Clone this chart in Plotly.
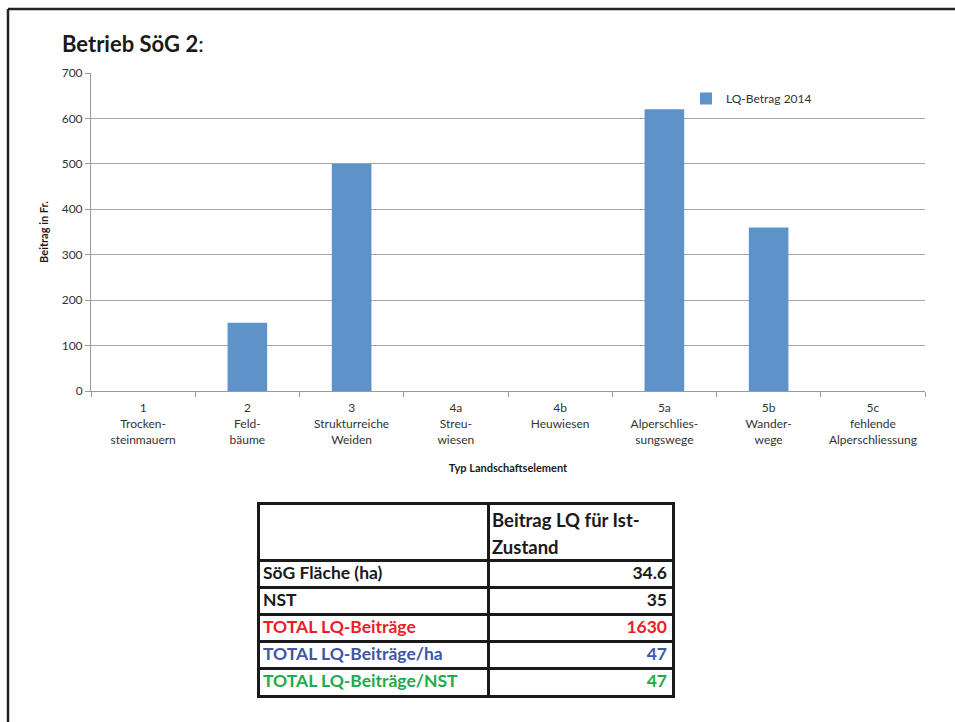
import plotly.graph_objects as go

W, H = 955, 722

categories = [
    "1<br>Trocken-<br>steinmauern",
    "2<br>Feld-<br>bäume",
    "3<br>Strukturreiche<br>Weiden",
    "4a<br>Streu-<br>wiesen",
    "4b<br>Heuwiesen",
    "5a<br>Alperschlies-<br>sungswege",
    "5b<br>Wander-<br>wege",
    "5c<br>fehlende<br>Alperschliessung",
]
values = [0, 150, 500, 0, 0, 620, 360, 0]
series_name = "LQ-Betrag 2014"
y_ticks = [0, 100, 200, 300, 400, 500, 600, 700]

table_labels = ["SöG Fläche (ha)", "NST", "TOTAL LQ-Beiträge", "TOTAL LQ-Beiträge/ha", "TOTAL LQ-Beiträge/NST"]
table_values = ["34.6", "35", "1630", "47", "47"]
table_colors = ["#1a1a1a", "#1a1a1a", "#ed1c24", "#3f55a5", "#22a94b"]
table_header_lines = ["Beitrag LQ für Ist-", "Zustand"]

FONT = "Lato"
bar_color = "#5d93c9"
border = "#1a1a1a"

# plot area in pixels
px_l, px_r, px_t, px_b = 91, 925, 73, 391

# table geometry (pixels)
tb_l, tb_r, tb_t = 260, 672, 505
col1_w = 228
header_h, row_h = 55, 27
tb_w = tb_r - tb_l
tb_h = header_h + row_h * len(table_labels)
row_bounds = [header_h + row_h * i for i in range(len(table_labels))]
row_centers = [header_h + row_h * i + row_h / 2 + 1 for i in range(len(table_labels))]

fig = go.Figure()
fig.add_trace(go.Bar(
    x=categories, y=values, name=series_name,
    marker=dict(color=bar_color, line=dict(width=0)),
    width=0.38, showlegend=True,
))

# table body: labels (left column) and values (right column)
fig.add_trace(go.Scatter(
    x=[3] * len(table_labels), y=row_centers,
    text=[f"<b>{t}</b>" for t in table_labels],
    mode="text", textposition="middle right",
    textfont=dict(family=FONT, size=17.5, color=table_colors),
    xaxis="x2", yaxis="y2", showlegend=False, hoverinfo="skip",
))
fig.add_trace(go.Scatter(
    x=[tb_w - 5] * len(table_values), y=row_centers,
    text=[f"<b>{v}</b>" for v in table_values],
    mode="text", textposition="middle left",
    textfont=dict(family=FONT, size=17.5, color=table_colors),
    xaxis="x2", yaxis="y2", showlegend=False, hoverinfo="skip",
))
fig.add_trace(go.Scatter(
    x=[col1_w + 4] * len(table_header_lines), y=[17, 44],
    text=[f"<b>{t}</b>" for t in table_header_lines],
    mode="text", textposition="middle right",
    textfont=dict(family=FONT, size=18.5, color=border),
    xaxis="x2", yaxis="y2", showlegend=False, hoverinfo="skip",
))

fig.update_layout(
    width=W, height=H,
    margin=dict(l=0, r=0, t=0, b=0, autoexpand=False),
    paper_bgcolor="white", plot_bgcolor="white",
    font=dict(family=FONT, size=12, color="#333333"),
    title=dict(
        text="<b>Betrieb SöG 2</b>:",
        x=62 / W, xanchor="left", xref="paper",
        y=1 - 44 / H, yanchor="middle", yref="paper",
        font=dict(family=FONT, size=22, color="#1a1a1a"),
    ),
    xaxis=dict(
        domain=[px_l / W, px_r / W],
        type="category",
        showgrid=False,
        showline=True, linecolor="#9a9a9a", linewidth=1,
        ticks="outside", tickson="boundaries", ticklen=5, tickcolor="#9a9a9a",
        ticklabelstandoff=6,
        tickfont=dict(family=FONT, size=12, color="#333333"),
        title=dict(text="<b>Typ Landschaftselement</b>", font=dict(family=FONT, size=11, color="#1a1a1a"), standoff=18),
        automargin=False,
    ),
    yaxis=dict(
        domain=[1 - px_b / H, 1 - px_t / H],
        range=[0, 700],
        tickvals=y_ticks,
        showgrid=True, gridcolor="#a6a6a6", gridwidth=1,
        showline=True, linecolor="#9a9a9a", linewidth=1,
        ticks="outside", ticklen=5, tickcolor="#9a9a9a",
        tickfont=dict(family=FONT, size=12, color="#333333"),
        title=dict(text="<b>Beitrag in Fr.</b>", font=dict(family=FONT, size=11, color="#1a1a1a"), standoff=10),
        zeroline=False,
        automargin=False,
    ),
    xaxis2=dict(
        domain=[tb_l / W, tb_r / W], anchor="y2",
        range=[0, tb_w], fixedrange=True,
        tickvals=[col1_w], showticklabels=False, ticks="",
        showgrid=True, gridcolor=border, gridwidth=2.5,
        showline=True, mirror=True, linecolor=border, linewidth=2.5,
        zeroline=False,
    ),
    yaxis2=dict(
        domain=[1 - (tb_t + tb_h) / H, 1 - tb_t / H], anchor="x2",
        range=[tb_h, 0], fixedrange=True,
        tickvals=row_bounds, showticklabels=False, ticks="",
        showgrid=True, gridcolor=border, gridwidth=2.5,
        showline=True, mirror=True, linecolor=border, linewidth=2.5,
        zeroline=False,
    ),
    legend=dict(
        x=686 / W, y=1 - 84 / H, xanchor="left", yanchor="top",
        font=dict(family=FONT, size=12, color="#333333"),
        bgcolor="rgba(0,0,0,0)", itemwidth=30,
    ),
    shapes=[
        dict(type="line", xref="paper", yref="paper", x0=8 / W, x1=1.02, y0=1 - 9 / H, y1=1 - 9 / H,
             line=dict(color="#222222", width=2.5)),
        dict(type="line", xref="paper", yref="paper", x0=8 / W, x1=8 / W, y0=1 - 9 / H, y1=-0.02,
             line=dict(color="#222222", width=2.5)),
    ],
)

fig.write_html("out.html", config={"displayModeBar": False})
